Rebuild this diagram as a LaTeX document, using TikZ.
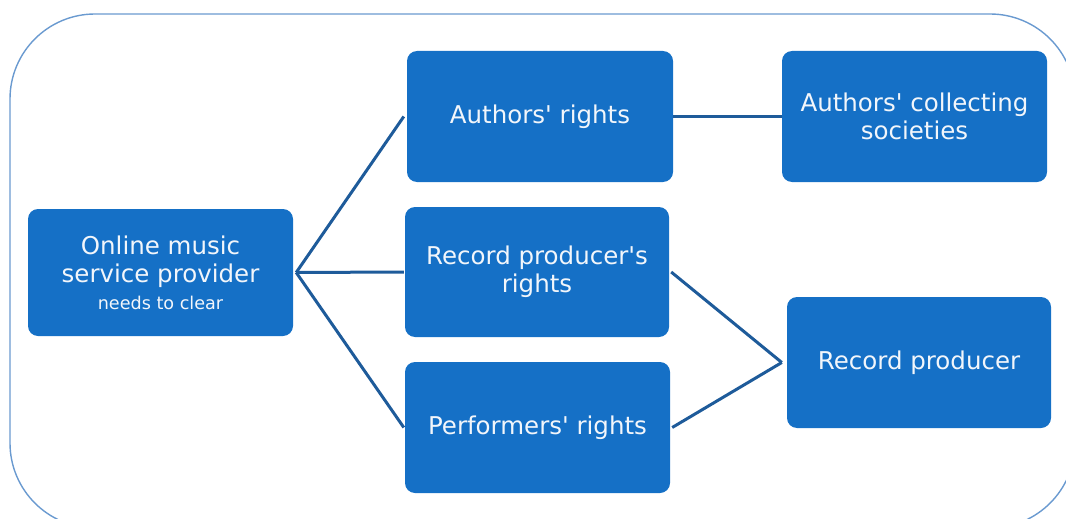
\documentclass[tikz,border=0pt]{standalone}
\usepackage{fontspec}
\setmainfont{DejaVu Sans}
\definecolor{boxblue}{HTML}{1570C6}
\definecolor{linkblue}{HTML}{1E5B9A}
\definecolor{frameblue}{HTML}{6A9AD0}
\definecolor{txt}{HTML}{F2F6FB}
\newcommand{\ap}{\XeTeXglyph\XeTeXcharglyph"27\relax}
\begin{document}
\begin{tikzpicture}[x=1pt,y=-1pt,
  box/.style={draw=none,fill=boxblue,rounded corners=10pt,text=txt,align=center,
    inner sep=0pt,font=\fontsize{24.5}{28}\selectfont},
  link/.style={draw=linkblue,line width=3pt}]
\useasboundingbox (0,0) rectangle (1066,519);
\begin{scope}
\clip (0,0) rectangle (1066,519);
\draw[frameblue,line width=1.4pt,rounded corners=85pt] (10,14) rectangle (1075,528);
\end{scope}
\node[box,minimum width=265pt,minimum height=127pt] (osp) at (160.5,272.5)
  {Online music\\service provider\\[-1pt]{\fontsize{17.6}{20}\selectfont needs to clear}};
\node[box,minimum width=266pt,minimum height=131pt] (ar) at (540,116.5) {Authors\ap{} rights};
\node[box,minimum width=265pt,minimum height=131pt] (acs) at (914.5,116.5) {Authors\ap{} collecting\\societies};
\node[box,minimum width=264pt,minimum height=130pt] (rpr) at (537,272) {Record producer\ap s\\rights};
\node[box,minimum width=265pt,minimum height=131pt] (pr) at (537.5,427.5) {Performers\ap{} rights};
\node[box,minimum width=264pt,minimum height=131pt] (rp) at (919,362.5) {Record producer};
\coordinate (j) at ([xshift=3pt]osp.east);
\coordinate (k) at ([xshift=-5pt]rp.west);
\draw[link] (j) -- ([xshift=-3pt]ar.west);
\draw[link] (j) -- ([xshift=-1pt]rpr.west);
\draw[link] (j) -- ([xshift=-1pt]pr.west);
\draw[link] (ar.east) -- (acs.west);
\draw[link] ([xshift=2pt]rpr.east) -- (k);
\draw[link] ([xshift=2pt]pr.east) -- (k);
\end{tikzpicture}
\end{document}
